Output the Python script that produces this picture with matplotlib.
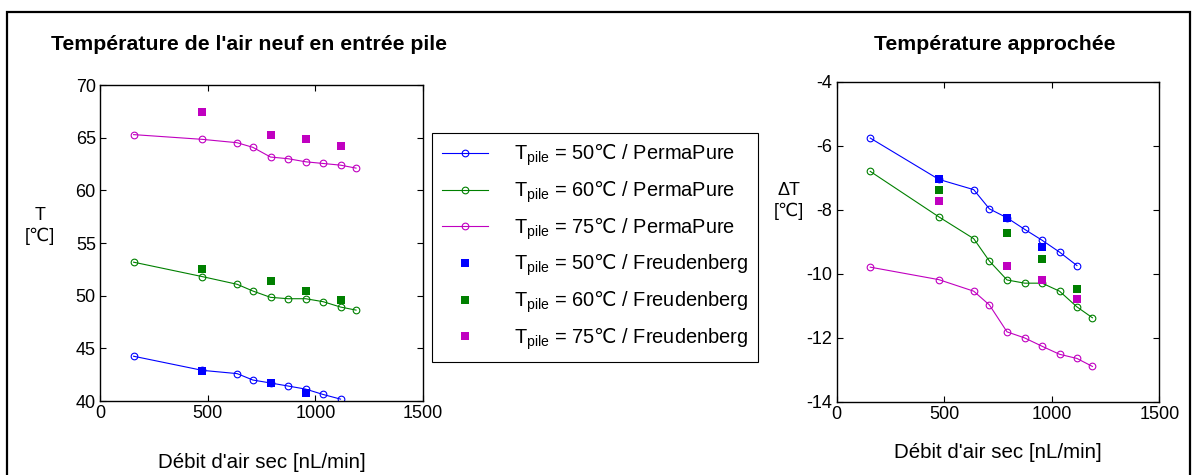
import matplotlib
matplotlib.use("Agg")
import matplotlib.pyplot as plt
from matplotlib.patches import Rectangle

plt.rcParams['font.family'] = ['Liberation Sans', 'DejaVu Sans']
plt.rcParams['mathtext.fontset'] = 'custom'
plt.rcParams['mathtext.rm'] = 'Liberation Sans'
plt.rcParams['mathtext.it'] = 'Liberation Sans'
plt.rcParams['mathtext.sf'] = 'DejaVu Sans'
plt.rcParams['axes.unicode_minus'] = False

# debit d'air sec [nL/min]
debit = [156, 475, 637, 710, 792, 874, 955, 1036, 1117, 1189]
debit_fr = [475, 792, 955, 1117]

# temperature de l'air neuf (PermaPure)
t50 = [44.25, 42.91, 42.60, 41.99, 41.71, 41.42, 41.13, 40.62, 40.18]
t60 = [53.18, 51.81, 51.08, 50.44, 49.84, 49.71, 49.71, 49.43, 48.92, 48.63]
t75 = [65.29, 64.84, 64.52, 64.08, 63.16, 63.00, 62.71, 62.55, 62.39, 62.11]
# Freudenberg
t50_fr = [42.88, 41.67, 40.78]
t60_fr = [52.57, 51.37, 50.48, 49.59]
t75_fr = [67.42, 65.29, 64.84, 64.21]

# temperature approchee
d50 = [-5.76, -7.05, -7.37, -7.97, -8.25, -8.61, -8.95, -9.32, -9.74]
d60 = [-6.80, -8.22, -8.90, -9.60, -10.19, -10.29, -10.29, -10.54, -11.03, -11.37]
d75 = [-9.79, -10.18, -10.54, -10.97, -11.81, -12.00, -12.26, -12.51, -12.64, -12.89]
d50_fr = [-7.05, -8.26, -9.16]
d60_fr = [-7.38, -8.72, -9.53, -10.48]
d75_fr = [-7.73, -9.74, -10.19, -10.77]

labels = [r'T$_{\mathrm{pile}}$ = 50$\mathsf{℃}$ / PermaPure',
          r'T$_{\mathrm{pile}}$ = 60$\mathsf{℃}$ / PermaPure',
          r'T$_{\mathrm{pile}}$ = 75$\mathsf{℃}$ / PermaPure',
          r'T$_{\mathrm{pile}}$ = 50$\mathsf{℃}$ / Freudenberg',
          r'T$_{\mathrm{pile}}$ = 60$\mathsf{℃}$ / Freudenberg',
          r'T$_{\mathrm{pile}}$ = 75$\mathsf{℃}$ / Freudenberg']
colors = ['#0000ff', '#008000', '#c000c0']

W, H = 1194, 475
fig = plt.figure(figsize=(W / 100, H / 100), dpi=100)

ax1 = fig.add_axes([100 / W, 1 - 401 / H, 323 / W, 316 / H])
ax2 = fig.add_axes([836.7 / W, 1 - 402 / H, 322.6 / W, 320.3 / H])


def draw(ax, perma, fr):
    handles = []
    for y, c in zip(perma, colors):
        h, = ax.plot(debit[:len(y)], y, '-o', color=c, lw=0.8, ms=4.8,
                     mfc='none', mew=0.8)
        handles.append(h)
    for y, c in zip(fr, colors):
        h, = ax.plot(debit_fr[:len(y)], y, 's', color=c, ms=5.2, mew=0)
        handles.append(h)
    ax.set_xlim(0, 1500)
    ax.set_xticks([0, 500, 1000, 1500])
    ax.tick_params(direction='in', top=True, right=True, labelsize=13,
                   length=4, width=0.8, pad=3)
    for s in ax.spines.values():
        s.set_linewidth(1.0)
    return handles


handles = draw(ax1, [t50, t60, t75], [t50_fr, t60_fr, t75_fr])
ax1.set_ylim(40, 70)
ax1.set_yticks(range(40, 71, 5))

draw(ax2, [d50, d60, d75], [d50_fr, d60_fr, d75_fr])
ax2.set_ylim(-14, -4)
ax2.set_yticks(range(-14, -3, 2))

leg = fig.legend(handles, labels, loc='upper left',
                 bbox_to_anchor=(431.7 / W, 1 - 132.7 / H), fontsize=14.4,
                 frameon=True, fancybox=False, edgecolor='black',
                 framealpha=1, borderaxespad=0, handlelength=2.3,
                 handletextpad=1.3, labelspacing=0.56, borderpad=0.5)
leg.get_frame().set_linewidth(0.8)

fig.text(248.7 / W, 1 - 45 / H, "Température de l'air neuf en entrée pile",
         ha='center', va='center', fontsize=15.3, fontweight='bold')
fig.text(995 / W, 1 - 45 / H, "Température approchée",
         ha='center', va='center', fontsize=15.3, fontweight='bold')

fig.text(262 / W, 1 - 463 / H, "Débit d'air sec [nL/min]",
         ha='center', va='center', fontsize=14.8)
fig.text(998 / W, 1 - 452 / H, "Débit d'air sec [nL/min]",
         ha='center', va='center', fontsize=14.8)

fig.text(40 / W, 1 - 226 / H, "T\n[℃]", ha='center', va='center',
         fontsize=13, linespacing=1.3)
fig.text(789 / W, 1 - 201 / H, "ΔT\n[℃]", ha='center', va='center',
         fontsize=13, linespacing=1.3)

fig.patches.append(Rectangle((7 / W, -0.05), 1183 / W, 1 - 12 / H + 0.05,
                             transform=fig.transFigure, fill=False,
                             edgecolor='black', lw=1.6, zorder=-1))

fig.savefig('out.png', dpi=100)
